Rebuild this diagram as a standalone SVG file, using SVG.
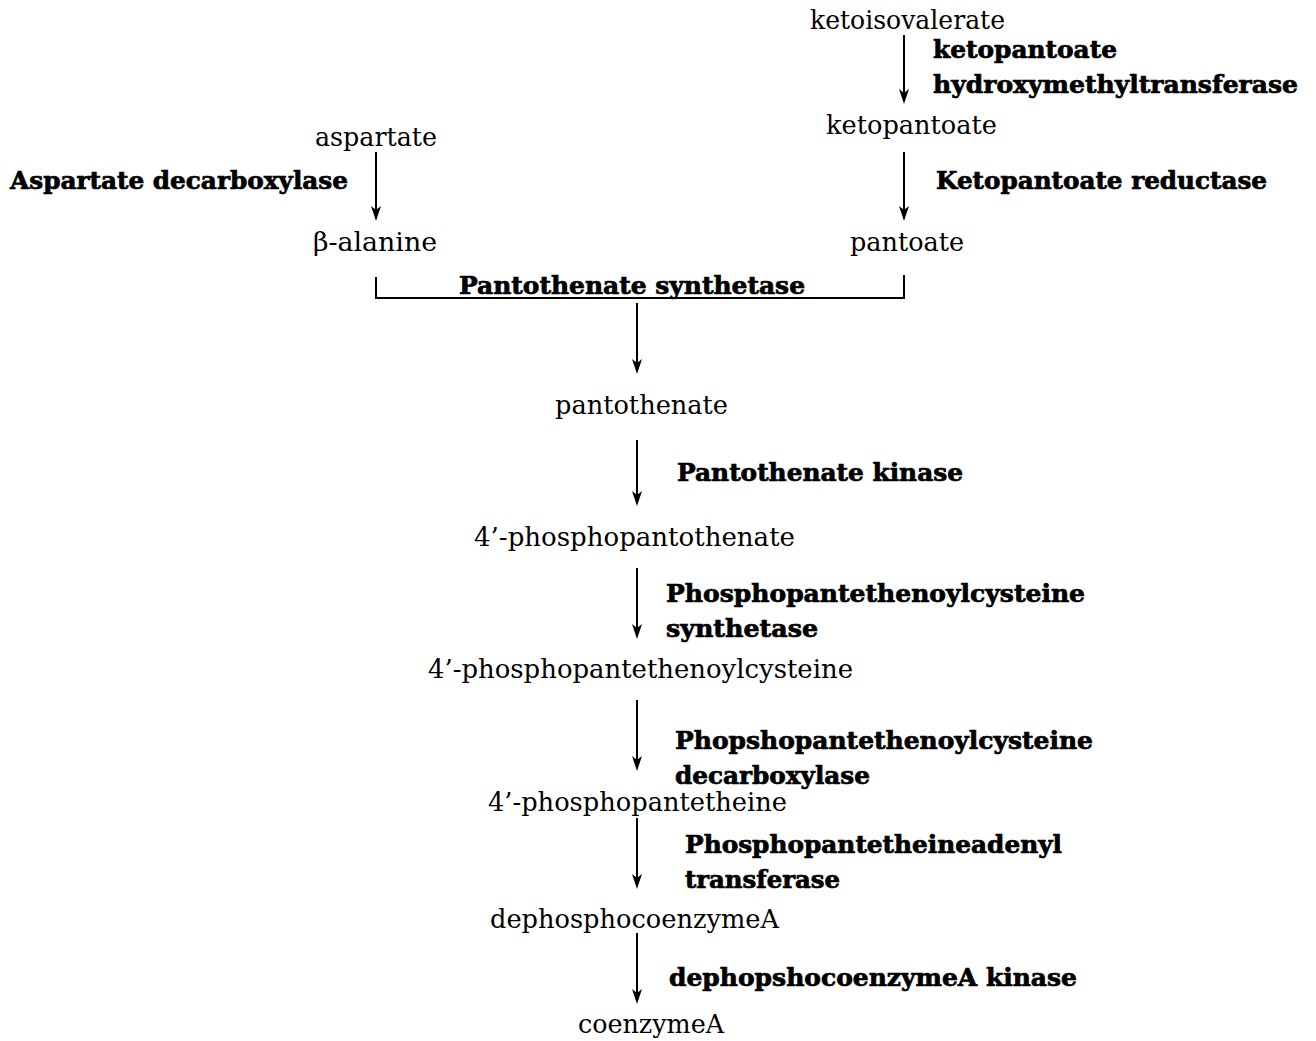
<svg xmlns="http://www.w3.org/2000/svg" width="1316" height="1041" viewBox="0 0 1316 1041">
  <style>
    .m { font-family: "DejaVu Serif", "Liberation Serif", serif; font-size: 26px; fill: #000; }
    .e { font-family: "DejaVu Serif", "Liberation Serif", serif; font-size: 24px; font-weight: bold; fill: #000; stroke: #000; stroke-width: 0.7; }
    .c { stroke: #000; stroke-width: 2; fill: none; }
  </style>
  <rect width="1316" height="1041" fill="#fff"/>

  <!-- connectors: reaction arrows and the bracket joining the two precursors -->
  <g id="connectors">
    <line class="c" x1="904" y1="35" x2="904" y2="100"/>
    <line class="c" x1="376" y1="152" x2="376" y2="217"/>
    <line class="c" x1="904" y1="152" x2="904" y2="217"/>
    <polyline class="c" points="376,277 376,298 904,298 904,275"/>
    <line class="c" x1="637" y1="303" x2="637" y2="370"/>
    <line class="c" x1="637" y1="440" x2="637" y2="502"/>
    <line class="c" x1="637" y1="568" x2="637" y2="635"/>
    <line class="c" x1="637" y1="700" x2="637" y2="767"/>
    <line class="c" x1="637" y1="818" x2="637" y2="885"/>
    <line class="c" x1="637" y1="933" x2="637" y2="1000"/>
    <g id="heads" fill="#000" stroke="none">
      <path d="M899,89 L904,104 L909,89 L904,93 Z"/>
      <path d="M371,206 L376,221 L381,206 L376,210 Z"/>
      <path d="M899,206 L904,221 L909,206 L904,210 Z"/>
      <path d="M632,359 L637,374 L642,359 L637,363 Z"/>
      <path d="M632,491 L637,506 L642,491 L637,495 Z"/>
      <path d="M632,624 L637,639 L642,624 L637,628 Z"/>
      <path d="M632,756 L637,771 L642,756 L637,760 Z"/>
      <path d="M632,874 L637,889 L642,874 L637,878 Z"/>
      <path d="M632,989 L637,1004 L642,989 L637,993 Z"/>
    </g>
  </g>

  <!-- metabolites -->
  <g id="ketoisovalerate"><text class="m" x="810" y="29" textLength="195" lengthAdjust="spacingAndGlyphs">ketoisovalerate</text></g>
  <g id="ketopantoate"><text class="m" x="826" y="134" textLength="171" lengthAdjust="spacingAndGlyphs">ketopantoate</text></g>
  <g id="aspartate"><text class="m" x="315" y="146" textLength="122" lengthAdjust="spacingAndGlyphs">aspartate</text></g>
  <g id="beta-alanine"><text class="m" x="313" y="251" textLength="124" lengthAdjust="spacingAndGlyphs">β-alanine</text></g>
  <g id="pantoate"><text class="m" x="850" y="251" textLength="114" lengthAdjust="spacingAndGlyphs">pantoate</text></g>
  <g id="pantothenate"><text class="m" x="555" y="414" textLength="173" lengthAdjust="spacingAndGlyphs">pantothenate</text></g>
  <g id="phosphopantothenate"><text class="m" x="474" y="546" textLength="321" lengthAdjust="spacingAndGlyphs">4’-phosphopantothenate</text></g>
  <g id="phosphopantethenoylcysteine"><text class="m" x="428" y="678" textLength="425" lengthAdjust="spacingAndGlyphs">4’-phosphopantethenoylcysteine</text></g>
  <g id="phosphopantetheine"><text class="m" x="488" y="811" textLength="299" lengthAdjust="spacingAndGlyphs">4’-phosphopantetheine</text></g>
  <g id="dephosphocoenzymeA"><text class="m" x="490" y="928" textLength="289" lengthAdjust="spacingAndGlyphs">dephosphocoenzymeA</text></g>
  <g id="coenzymeA"><text class="m" x="578" y="1033" textLength="146" lengthAdjust="spacingAndGlyphs">coenzymeA</text></g>

  <!-- enzymes -->
  <g id="ketopantoate-hydroxymethyltransferase">
    <text class="e" x="933" y="58" textLength="184" lengthAdjust="spacingAndGlyphs">ketopantoate</text>
    <text class="e" x="933" y="93" textLength="365" lengthAdjust="spacingAndGlyphs">hydroxymethyltransferase</text>
  </g>
  <g id="aspartate-decarboxylase"><text class="e" x="10" y="189" textLength="338" lengthAdjust="spacingAndGlyphs">Aspartate decarboxylase</text></g>
  <g id="ketopantoate-reductase"><text class="e" x="936" y="189" textLength="331" lengthAdjust="spacingAndGlyphs">Ketopantoate reductase</text></g>
  <g id="pantothenate-synthetase"><text class="e" x="459" y="294" textLength="346" lengthAdjust="spacingAndGlyphs">Pantothenate synthetase</text></g>
  <g id="pantothenate-kinase"><text class="e" x="677" y="481" textLength="286" lengthAdjust="spacingAndGlyphs">Pantothenate kinase</text></g>
  <g id="ppc-synthetase">
    <text class="e" x="666" y="602" textLength="419" lengthAdjust="spacingAndGlyphs">Phosphopantethenoylcysteine</text>
    <text class="e" x="666" y="637" textLength="152" lengthAdjust="spacingAndGlyphs">synthetase</text>
  </g>
  <g id="ppc-decarboxylase">
    <text class="e" x="675" y="749" textLength="418" lengthAdjust="spacingAndGlyphs">Phopshopantethenoylcysteine</text>
    <text class="e" x="675" y="784" textLength="195" lengthAdjust="spacingAndGlyphs">decarboxylase</text>
  </g>
  <g id="ppat">
    <text class="e" x="685" y="853" textLength="377" lengthAdjust="spacingAndGlyphs">Phosphopantetheineadenyl</text>
    <text class="e" x="685" y="888" textLength="155" lengthAdjust="spacingAndGlyphs">transferase</text>
  </g>
  <g id="dpck"><text class="e" x="669" y="986" textLength="408" lengthAdjust="spacingAndGlyphs">dephopshocoenzymeA kinase</text></g>
</svg>
